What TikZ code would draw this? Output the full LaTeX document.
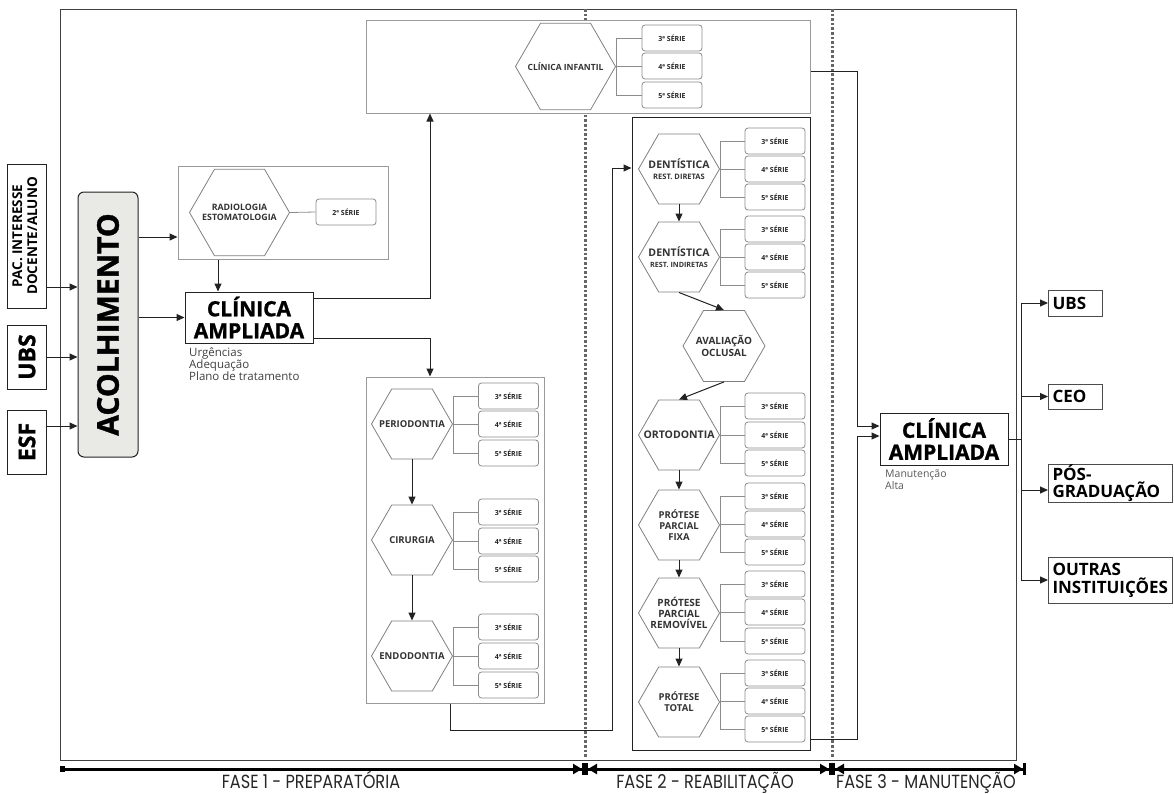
\documentclass[tikz,border=0pt]{standalone}
\usepackage{fontspec}
\usepackage{graphicx}
\setmainfont{Open Sans}
\newfontfamily\heavy[BoldFeatures={FakeBold=1.2}]{Open Sans}
\newfontfamily\fasefont{Poppins}
\usetikzlibrary{arrows.meta,shapes.geometric}
\definecolor{gline}{HTML}{9A9A9A}
\definecolor{dline}{HTML}{222222}
\definecolor{acfill}{HTML}{E9E9E6}
\tikzset{
  cont/.style={draw=gline, line width=1pt, fill=white, inner sep=0},
  frm/.style={draw=black!75, line width=1pt, inner sep=0},
  bbox/.style={draw=dline, line width=1pt, fill=white, inner sep=0},
  serie/.style={draw=black!45, line width=0.8pt, rounded corners=3pt, fill=white,
    minimum width=60, minimum height=26, inner sep=0,
    font=\bfseries\fontsize{7}{8}\selectfont, text=black!85},
  hexa/.style={regular polygon, regular polygon sides=6, draw=black!50, line width=0.8pt,
    fill=white, inner sep=0, minimum size=#1},
  hlab/.style={font=\bfseries\fontsize{9.5}{11}\selectfont, text=black!80, align=center, inner sep=0},
  br/.style={draw=black!45, line width=0.8pt},
  arr/.style={draw=dline, line width=1pt, -{Triangle[length=8pt,width=7pt]}},
  link/.style={draw=dline, line width=1pt},
  outbox/.style={draw=black!70, line width=1pt, fill=white, inner xsep=4pt, inner ysep=1pt,
    font=\bfseries\fontsize{17}{18}\selectfont, align=left, anchor=west},
  dots/.style={draw=black!60, line width=3pt, dash pattern=on 2.6pt off 2pt},
  axis/.style={draw=black, line width=3pt},
  fase/.style={anchor=base, inner sep=0, font=\fasefont\fontsize{19}{19}\selectfont, text=black!85}
}
\begin{document}
\begin{tikzpicture}[x=1pt,y=-1pt]
\useasboundingbox (0,0) rectangle (1174,793);
% frame and phase separators
\node[frm, minimum width=956, minimum height=751] (frame) at (538,384.5) {};
\draw[dots] (585,9) -- (585,757);
\draw[dots] (832,9) -- (832,757);

% inputs
\node[bbox, minimum width=39, minimum height=144, font=\bfseries\fontsize{13.5}{15}\selectfont] (pac) at (26.5,236)
  {\rotatebox{90}{\begin{tabular}{@{}c@{}}PAC. INTERESSE\\DOCENTE/ALUNO\end{tabular}}};
\node[bbox, minimum width=39, minimum height=64, font=\heavy\bfseries\fontsize{23}{23}\selectfont] (ubs) at (27,357) {\rotatebox{90}{UBS}};
\node[bbox, minimum width=39, minimum height=64, font=\heavy\bfseries\fontsize{23}{23}\selectfont] (esf) at (27,442) {\rotatebox{90}{ESF}};

% acolhimento
\node[draw=dline, line width=1pt, fill=acfill, rounded corners=6pt, minimum width=60, minimum height=265,
  inner sep=0, font=\heavy\bfseries\fontsize{30}{30}\selectfont] (acol) at (108,324.5) {\rotatebox{90}{ACOLHIMENTO}};

% radiologia
\node[cont, minimum width=210, minimum height=93] (radbox) at (283,212.5) {};
\node[hexa=100, label={[hlab, font=\bfseries\fontsize{8.8}{10.5}\selectfont]center:RADIOLOGIA\\ESTOMATOLOGIA}] (rad) at (239.5,212.5) {};
\node[serie] (rad2) at (346,212) {2ª SÉRIE};
\draw[br] (rad.east) -- (rad2.west);

% clinica ampliada 1
\node[bbox, minimum width=128, minimum height=51, font=\heavy\bfseries\fontsize{21}{22}\selectfont, align=center, text=black] (clin1) at (249,317.5) {CLÍNICA\\AMPLIADA};
\node[anchor=north west, inner sep=0, align=left, font=\fontsize{11.5}{12}\selectfont, text=black!75] (clin1txt) at (189,347) {Urgências\\Adequação\\Plano de tratamento};

% clinica infantil
\node[cont, minimum width=444, minimum height=93] (infbox) at (588,66.5) {};
\node[hexa=100, label={[hlab, font=\bfseries\fontsize{8.5}{10}\selectfont]center:CLÍNICA INFANTIL}] (inf) at (565.5,66.5) {};

% fase 1 column
\node[cont, minimum width=178, minimum height=326] (pbox) at (455,540) {};
\node[hexa=81, label={[hlab]center:PERIODONTIA}] (perio) at (412,424) {};
\node[hexa=81, label={[hlab]center:CIRURGIA}] (cir) at (412,540) {};
\node[hexa=81, label={[hlab]center:ENDODONTIA}] (endo) at (412,656) {};

% fase 2 column
\node[bbox, minimum width=178, minimum height=633] (f2box) at (721,433.5) {};
\node[hexa=81, label={[hlab]center:{\fontsize{10.5}{12}\selectfont DENTÍSTICA}\\{\fontsize{7.5}{9}\selectfont REST. DIRETAS}}] (dd) at (679,169) {};
\node[hexa=81, label={[hlab]center:{\fontsize{10.5}{12}\selectfont DENTÍSTICA}\\{\fontsize{7.2}{9}\selectfont REST. INDIRETAS}}] (di) at (679,257) {};
\node[hexa=82, label={[hlab, font=\bfseries\fontsize{10}{12}\selectfont]center:AVALIAÇÃO\\OCLUSAL}] (aval) at (724,346) {};
\node[hexa=81, label={[hlab, font=\bfseries\fontsize{10.5}{12}\selectfont]center:ORTODONTIA}] (orto) at (679,435) {};
\node[hexa=81, label={[hlab]center:PRÓTESE\\PARCIAL\\FIXA}] (ppf) at (679,525) {};
\node[hexa=81, label={[hlab, font=\bfseries\fontsize{10}{11}\selectfont]center:PRÓTESE\\PARCIAL\\REMOVÍVEL}] (ppr) at (679,613) {};
\node[hexa=81, label={[hlab]center:PRÓTESE\\TOTAL}] (pt) at (679,702) {};

% series
\foreach \h/\sx/\ya/\yb/\yc in {perio/508.5/396/424/453, cir/508.5/512/541/569, endo/508.5/627/656/685,
  dd/775/141/169/197, di/775/229/257/285, orto/775/406/435/463, ppf/775/496/524/552,
  ppr/775/584/612/641, pt/775/673/701/729, inf/672/38/66/95}{
  \node[serie] (\h3) at (\sx,\ya) {3ª SÉRIE};
  \node[serie] (\h4) at (\sx,\yb) {4ª SÉRIE};
  \node[serie] (\h5) at (\sx,\yc) {5ª SÉRIE};
  \draw[br] (\h.east) |- (\h3.west);
  \draw[br] (\h.east) |- (\h4.west);
  \draw[br] (\h.east) |- (\h5.west);
}

% clinica ampliada 2
\node[bbox, minimum width=128, minimum height=52, font=\heavy\bfseries\fontsize{21}{22}\selectfont, align=center, text=black] (clin2) at (944,439) {CLÍNICA\\AMPLIADA};
\node[anchor=north west, inner sep=0, align=left, font=\fontsize{10.5}{11.5}\selectfont, text=black!65] (clin2txt) at (885,470) {Manutenção\\Alta};

% outputs
\node[outbox, text width=46, minimum height=26] (ubs2) at (1048,303) {UBS};
\node[outbox, text width=46, minimum height=25] (ceo) at (1048,396.5) {CEO};
\node[outbox, text width=116, minimum height=35, font=\bfseries\fontsize{17}{15.5}\selectfont] (pos) at (1048,483.5) {PÓS-\\GRADUAÇÃO};
\node[outbox, text width=116, minimum height=46, font=\bfseries\fontsize{17}{18}\selectfont] (outras) at (1048,580) {OUTRAS\\INSTITUIÇÕES};

% connectors
\draw[arr] (pac.east |- 0,287) -- (acol.west |- 0,287);
\draw[arr] (ubs.east) -- (acol.west |- ubs.east);
\draw[arr] (esf.east |- 0,426) -- (acol.west |- 0,426);
\draw[arr] (acol.east |- 0,237) -- (radbox.west |- 0,237);
\draw[arr] (acol.east |- clin1.west) -- (clin1.west);
\draw[arr] (radbox.south -| 218,0) -- (clin1.north -| 218,0);
\draw[arr] (clin1.east |- 0,298) -| (infbox.south -| 430,0);
\draw[arr] (clin1.east |- 0,338) -| (pbox.north -| 430,0);
\draw[arr] (perio.south) -- (cir.north);
\draw[arr] (cir.south) -- (endo.north);
\draw[arr] (pbox.south -| 450,0) |- (612,730) |- (f2box.west |- 0,168);
\draw[arr] (dd.south) -- (di.north);
\draw[arr] (di.south) -- (aval.north);
\draw[arr] (aval.south) -- (orto.north);
\draw[arr] (orto.south) -- (ppf.north);
\draw[arr] (ppf.south) -- (ppr.north);
\draw[arr] (ppr.south) -- (pt.north);
\draw[arr] (infbox.east |- 0,71) -| (857,426) -- (clin2.west |- 0,426);
\draw[arr] (f2box.east |- 0,739) -| (857,436) -- (clin2.west |- 0,436);
\coordinate (bus) at (1021,439);
\draw[link] (clin2.east) -- (bus);
\draw[arr] (bus) |- (ubs2.west);
\draw[arr] (bus) |- (ceo.west);
\draw[arr] (bus) |- (pos.west |- 0,490);
\draw[arr] (bus) |- (outras.west);

% phase axis
\coordinate (a0) at (60,769);
\coordinate (a1) at (585,769);
\coordinate (a2) at (832,769);
\coordinate (a3) at (1026,769);
\draw[axis, {Square[length=5pt,width=6pt]}-{Triangle[length=9pt,width=10pt]Bar[width=12pt]}] (a0) -- (a1);
\draw[axis, {Bar[width=12pt]Triangle[length=9pt,width=10pt]}-{Triangle[length=9pt,width=10pt]Bar[width=12pt]}] (a1) -- (a2);
\draw[axis, {Bar[width=12pt]Triangle[length=9pt,width=10pt]}-{Triangle[length=9pt,width=10pt]Bar[width=12pt]}] (a2) -- (a3);
\node[fase] (f1) at (311,788.5) {\scalebox{0.85}[1]{FASE 1 - PREPARATÓRIA}};
\node[fase] (f2) at (705,788.5) {\scalebox{0.85}[1]{FASE 2 - REABILITAÇÃO}};
\node[fase] (f3) at (926,788.5) {\scalebox{0.85}[1]{FASE 3 - MANUTENÇÃO}};
\end{tikzpicture}
\end{document}
